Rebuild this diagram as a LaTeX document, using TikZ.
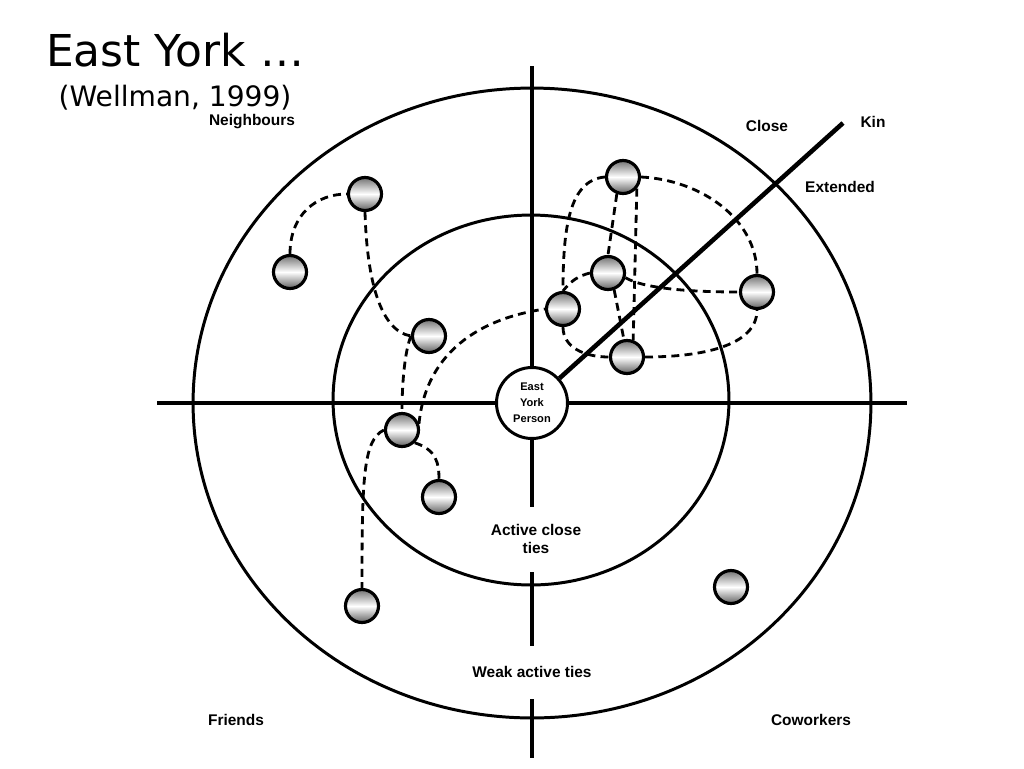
\documentclass[tikz,border=0pt]{standalone}
\usepackage{fontspec}
\setmainfont{Liberation Sans}
\newfontfamily\titlefont{DejaVu Sans}
\begin{document}
\begin{tikzpicture}[x=0.02cm, y=-0.02cm, line join=round, line cap=butt,
  font=\bfseries\fontsize{8.8}{10.5}\selectfont,
  ring/.style={line width=1.7pt},
  axis/.style={line width=2.3pt},
  tie/.style={line width=1.6pt, dash pattern=on 4.5pt off 3pt},
  alter/.style={circle, draw, line width=1.8pt, minimum size=0.66cm, inner sep=0pt,
    top color=black!55, bottom color=black!62, middle color=white},
  lbl/.style={inner sep=0pt, align=center}]
	\useasboundingbox (0,0) rectangle (1024,768);
	% title
	\node[anchor=base, inner sep=0pt] (title) at (175,66) {\normalfont\titlefont\fontsize{25}{30}\selectfont East York …};
	\node[anchor=base, inner sep=0pt] (cite) at (175,106) {\normalfont\titlefont\fontsize{16}{19}\selectfont (Wellman, 1999)};
	% ego in the middle
	\node[circle, draw, line width=1.7pt, fill=white, minimum size=1.42cm, inner sep=0pt, align=center,
	  font=\bfseries\fontsize{6.3}{9}\selectfont] (ego) at (532,403) {East\\York\\Person};
	% rings
	\draw[ring] (532,403) ellipse [x radius=6.78cm, y radius=6.3cm];
	\draw[ring] (531,400) ellipse [x radius=3.96cm, y radius=3.7cm];
	% axes
	\path (532,66) coordinate (vtop) (532,507) coordinate (va) (532,572) coordinate (vb)
	  (532,646) coordinate (vc) (532,699) coordinate (vd) (532,758) coordinate (vbot)
	  (157,403) coordinate (hleft) (907,403) coordinate (hright) (843,123) coordinate (kinend);
	\draw[axis] (vtop) -- (ego.north);
	\draw[axis] (ego.south) -- (va);
	\draw[axis] (vb) -- (vc);
	\draw[axis] (vd) -- (vbot);
	\draw[axis] (hleft) -- (ego.west);
	\draw[axis] (ego.east) -- (hright);
	\draw[line width=2.6pt] (ego.42) -- (kinend);
	% labels
	\node[lbl] (neigh) at (252,122) {Neighbours};
	\node[lbl] (close) at (767,126) {Close};
	\node[lbl] (kin) at (873,122) {Kin};
	\node[lbl] (extended) at (840,187) {Extended};
	\node[lbl] (activeclose) at (536,539) {Active close\\ties};
	\node[lbl] (weakactive) at (532,672) {Weak active ties};
	\node[lbl] (friends) at (236,720) {Friends};
	\node[lbl] (coworkers) at (811,720) {Coworkers};
	% alters
	\foreach \nm/\px/\py in {p1/365/194, p2/290/272, p3/429/336, p4/402/430, p5/439/497, p6/362/606,
	  p7/623/177, p8/608/273, p9/563/309, p10/757/292, p11/627/357, p12/731/587}
	\node[alter] (\nm) at (\px,\py) {};
	% ties, left group
	\draw[tie] (p2.north) .. controls +(0,-40) and +(-30,0) .. (p1.west);
	\draw[tie] (p1.south) .. controls +(2,70) and +(-30,-5) .. (p3.west);
	\draw[tie] (p3.west) .. controls +(-6,15) and +(0,-30) .. (p4.north);
	\draw[tie] (p4.20) .. controls (425,360) and (470,320) .. (p9.west);
	\draw[tie] (p4.west) .. controls +(-21,10) and +(0,-108) .. (p6.north);
	\draw[tie] (p4.-45) .. controls +(22,7) and +(0,-15) .. (p5.north);
	% ties, right group
	\draw[tie] (p7.west) .. controls +(-36,3) and +(0,-62) .. (p9.north);
	\draw[tie] (p7.-110) -- (p8.north);
	\draw[tie] (p7.-40) -- (p11.70);
	\draw[tie] (p7.east) .. controls +(60,3) and +(0,-55) .. (p10.north);
	\draw[tie] (p8.west) .. controls +(-12,3) and +(8,-10) .. (p9.north);
	\draw[tie] (p8.-70) -- (p11.100);
	\draw[tie] (p8.-15) .. controls +(20,12) and +(-40,0) .. (p10.west);
	\draw[tie] (p9.south) .. controls +(0,20) and +(-25,0) .. (p11.west);
	\draw[tie] (p11.east) .. controls +(56,0) and +(0,36) .. (p10.south);
\end{tikzpicture}
\end{document}
